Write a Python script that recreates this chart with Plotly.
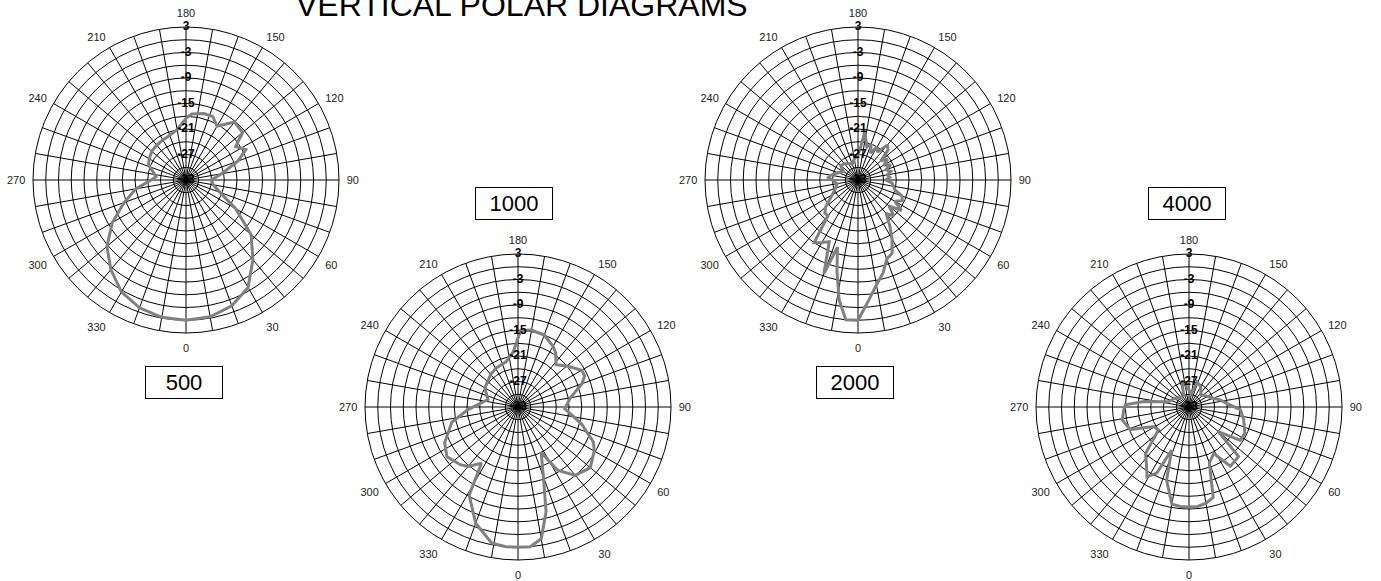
import plotly.graph_objects as go

W, H = 1381, 581

# ---------------- data (dB relative, angle in degrees) ----------------
theta_500 = [0, 10, 20, 30, 40, 50, 60, 70, 80, 90, 100, 110, 117, 124, 130, 140, 150, 157, 165, 175,
             180, 190, 200, 210, 220, 230, 240, 248, 256, 264, 270, 280, 290, 300, 310, 320, 330, 340, 350]
val_500 = [0, -0.3, -1.5, -3.8, -8.5, -13, -19.5, -24.5, -26.5, -27, -24.5, -20, -17.2, -18.9, -15.6, -15.2, -18.4, -16.8, -16.8, -17.4,
           -18.5, -21, -21.8, -22.1, -22.3, -22.5, -23, -23.5, -25, -25.9, -24.8, -21, -17.5, -13, -8.7, -5.5, -2.6, -1, -0.2]

theta_1000 = [0, 5, 10, 15, 20, 27, 32, 40, 50, 60, 65, 75, 88, 100, 110, 115, 120, 130, 138, 145, 150, 160, 170, 178,
              185, 195, 210, 220, 240, 256, 265, 273, 283, 296, 305, 315, 320, 327, 331, 340, 349, 355]
val_1000 = [0, 0, -1.5, -7.5, -15.5, -21, -15.5, -12, -10.8, -12.3, -13.4, -17.5, -22, -20.5, -17, -15.7, -15.7, -18, -19.6, -17.5, -16.5, -15, -14.6, -15,
            -20, -22, -22.5, -23, -24, -25.7, -24, -21.2, -17, -13.8, -12.6, -13.8, -14.7, -17.2, -9.3, -3.9, -0.4, 0]

theta_2000 = [0, 5, 10, 15, 20, 25, 30, 35, 40, 45, 50, 55, 60, 65, 70, 75, 80, 85, 90, 95, 100, 105, 110, 115, 120, 125,
              130, 135, 140, 145, 150, 155, 160, 165, 172, 175, 180, 190, 200, 210, 220, 230, 240, 250, 260, 265, 270,
              280, 290, 300, 310, 315, 320, 325, 330, 335, 340, 343, 347, 351, 355]
val_2000 = [0, -4.5, -8, -10.3, -13.2, -14, -17, -20, -22.7, -21, -23.5, -20.5, -23, -21.5, -22, -24, -24.5, -25, -26.5, -25.5, -26, -25, -26, -24.5, -26, -24.5,
            -26, -23, -22.2, -25, -24, -26, -24, -25, -21.5, -25, -27, -28, -29, -28.5, -28, -27.7, -29, -28, -26.5, -26, -27,
            -28, -27.4, -26, -23, -22, -22, -15, -16, -17, -9.5, -16.5, -11, -4.5, 0]

theta_4000 = [0, 5, 10, 15, 20, 28, 35, 45, 50, 57, 65, 77, 87, 95, 103, 110, 120, 135, 150, 162, 170, 180, 188, 196, 205,
              220, 240, 256, 263, 268, 273, 281, 291, 299, 307, 317, 324, 329, 334, 338, 343, 350, 355]
val_4000 = [-9.5, -9.5, -10, -11, -19, -20.6, -16, -16.5, -24, -18.6, -18.5, -19.8, -20.9, -24, -25.5, -27, -28, -29, -27.5, -26.8, -30, -29, -28, -27.2, -30,
            -30, -29, -28, -22.3, -18, -17.6, -17, -18.2, -23.5, -24, -18, -16, -13.8, -15.7, -22.1, -15, -9.8, -9.5]

titles = ["500", "1000", "2000", "4000"]
series = [(theta_500, val_500), (theta_1000, val_1000), (theta_2000, val_2000), (theta_4000, val_4000)]

r_ticks = [3, -3, -9, -15, -21, -27, -33]
r_grid = list(range(-33, 4, 3))
ang_ticks = list(range(0, 360, 10))
ang_text = [str(a) if a % 30 == 0 else "" for a in ang_ticks]

# ---------------- layout geometry (pixels) ----------------
centers = [(186, 180), (518, 407), (858, 180), (1189, 407)]
R = 153
box_pos = [(184, 382), (514, 203), (855, 382), (1187, 203)]

FONT = "Liberation Sans, Arial, sans-serif"
fig = go.Figure()
layout = dict(width=W, height=H, margin=dict(l=0, r=0, t=0, b=0),
              paper_bgcolor="white", plot_bgcolor="white", showlegend=False)

annotations = []
for i, ((th, vals), (cx, cy)) in enumerate(zip(series, centers)):
    pname = "polar" if i == 0 else f"polar{i+1}"
    fig.add_trace(go.Scatterpolar(
        r=list(vals) + [vals[0]], theta=list(th) + [th[0]], mode="lines",
        line=dict(color="#808080", width=3), subplot=pname, hoverinfo="skip"))
    fig.add_trace(go.Scatterpolar(
        r=r_ticks, theta=[180] * len(r_ticks), mode="text",
        text=[f"<b>{v}</b>" for v in r_ticks],
        textfont=dict(family=FONT, size=12, color="black"),
        subplot=pname, hoverinfo="skip"))
    layout[pname] = dict(
        domain=dict(x=[(cx - R) / W, (cx + R) / W], y=[1 - (cy + R) / H, 1 - (cy - R) / H]),
        bgcolor="white",
        angularaxis=dict(rotation=-90, direction="counterclockwise",
                         tickmode="array", tickvals=ang_ticks, ticktext=ang_text,
                         showgrid=True, gridcolor="black", gridwidth=1,
                         showline=True, linecolor="black", linewidth=1,
                         ticks="outside", ticklen=5, tickcolor="rgba(0,0,0,0)",
                         tickfont=dict(family=FONT, size=11, color="#222")),
        radialaxis=dict(range=[-33, 3], tickmode="array", tickvals=r_grid,
                        showticklabels=False, ticks="", showgrid=True, gridcolor="black", gridwidth=1,
                        showline=False, angle=90))
    bx, by = box_pos[i]
    annotations.append(dict(x=bx / W, y=1 - by / H, xref="paper", yref="paper", text=titles[i],
                            showarrow=False, font=dict(family=FONT, size=22, color="black"),
                            bordercolor="black", borderwidth=1, borderpad=3, bgcolor="white",
                            xanchor="center", yanchor="middle", width=70))

annotations.append(dict(x=522 / W, y=1 - 5 / H, xref="paper", yref="paper", text="VERTICAL POLAR DIAGRAMS",
                        showarrow=False, font=dict(family=FONT, size=32, color="black"),
                        xanchor="center", yanchor="middle"))
layout["annotations"] = annotations
fig.update_layout(**layout)
fig.write_html("out.html", config={"displayModeBar": False},
               post_script="document.body.style.margin='0';document.body.style.padding='0';")
